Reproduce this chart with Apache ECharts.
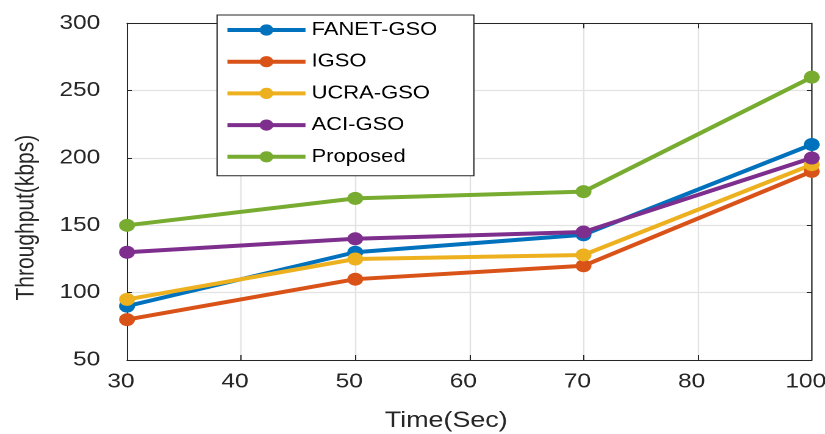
<!DOCTYPE html>
<html>
<head>
<meta charset="utf-8">
<script src="https://cdn.jsdelivr.net/npm/echarts@6/dist/echarts.min.js"></script>
<style>
  html, body { margin: 0; padding: 0; background: #fff; overflow: hidden; }
  #c { width: 676.2px; height: 434px; transform: scaleX(1.22); transform-origin: 0 0; }
</style>
</head>
<body>
<div id="c"></div>
<script>
// Data
const xLabels = ['30', '40', '50', '60', '70', '80', '100'];
const yTicks = { min: 50, max: 300, step: 50 };
const seriesNames = ['FANET-GSO', 'IGSO', 'UCRA-GSO', 'ACI-GSO', 'Proposed'];
const fanetGSO = [90, null, 130, null, 143, null, 210];
const iGSO     = [80, null, 110, null, 120, null, 190];
const ucraGSO  = [95, null, 125, null, 128, null, 195];
const aciGSO   = [130, null, 140, null, 145, null, 200];
const proposed = [150, null, 170, null, 175, null, 260];
const colors = ['#0072BD', '#D95319', '#EDB120', '#7E2F8E', '#77AC30'];

const FONT = '"Liberation Sans", Arial, Helvetica, sans-serif';
const TXT = '#262626';

const chart = echarts.init(document.getElementById('c'), null, { renderer: 'canvas', devicePixelRatio: 2 });

const values = [fanetGSO, iGSO, ucraGSO, aciGSO, proposed];
const series = values.map((d, i) => ({
  name: seriesNames[i],
  type: 'line',
  data: d,
  connectNulls: true,
  symbol: 'circle',
  symbolSize: 13,
  showSymbol: true,
  lineStyle: { width: 4, color: colors[i] },
  itemStyle: { color: colors[i] },
  emphasis: { disabled: true },
  animation: false,
  z: 3
}));

const option = {
  animation: false,
  grid: { left: 104.1, right: 10.6, top: 23.3, bottom: 74, containLabel: false, outerBoundsMode: 'none' },
  legend: {
    orient: 'vertical',
    left: 177.9,
    top: 15,
    backgroundColor: '#fff',
    borderColor: TXT,
    borderWidth: 1,
    borderRadius: 0,
    padding: [5, 30, 9, 6.5],
    itemWidth: 64,
    itemHeight: 14,
    itemGap: 11.7,
    lineStyle: { width: 4 },
    textStyle: { fontFamily: FONT, fontSize: 18, color: '#000', lineHeight: 20 },
    data: seriesNames,
    z: 10
  },
  xAxis: [{
    type: 'category',
    data: xLabels,
    boundaryGap: false,
    name: 'Time(Sec)',
    nameLocation: 'middle',
    nameGap: 50,
    nameTextStyle: { fontFamily: FONT, fontSize: 22, color: TXT, padding: [0, 38, 0, 0] },
    axisLine: { show: true, lineStyle: { color: TXT, width: 1 } },
    axisTick: { show: true, inside: true, length: 5, alignWithLabel: true, lineStyle: { color: TXT } },
    axisLabel: { fontFamily: FONT, fontSize: 20, color: TXT, margin: 12, padding: [0, 10, 0, 0] },
    splitLine: { show: true, lineStyle: { color: '#e3e3e3', width: 1.2 } }
  }, {
    type: 'category',
    data: xLabels,
    boundaryGap: false,
    position: 'top',
    axisLine: { show: true, lineStyle: { color: TXT, width: 1 } },
    axisTick: { show: true, inside: true, length: 5, lineStyle: { color: TXT } },
    axisLabel: { show: false },
    splitLine: { show: false }
  }],
  yAxis: [{
    type: 'value',
    min: yTicks.min,
    max: yTicks.max,
    interval: yTicks.step,
    name: 'Throughput(kbps)',
    nameLocation: 'middle',
    nameGap: 72,
    nameTextStyle: { fontFamily: FONT, fontSize: 21, color: TXT, padding: [0, 52, 0, 0] },
    axisLine: { show: true, lineStyle: { color: TXT, width: 1 } },
    axisTick: { show: true, inside: true, length: 4, lineStyle: { color: TXT } },
    axisLabel: { fontFamily: FONT, fontSize: 20, color: TXT, margin: 22, padding: [0, 0, 8, 0] },
    splitLine: { show: true, lineStyle: { color: '#e3e3e3', width: 1.2 } }
  }, {
    type: 'value',
    min: yTicks.min,
    max: yTicks.max,
    interval: yTicks.step,
    position: 'right',
    axisLine: { show: true, lineStyle: { color: TXT, width: 1 } },
    axisTick: { show: true, inside: true, length: 4, lineStyle: { color: TXT } },
    axisLabel: { show: false },
    splitLine: { show: false }
  }],
  series: series
};

chart.setOption(option);
</script>
</body>
</html>
